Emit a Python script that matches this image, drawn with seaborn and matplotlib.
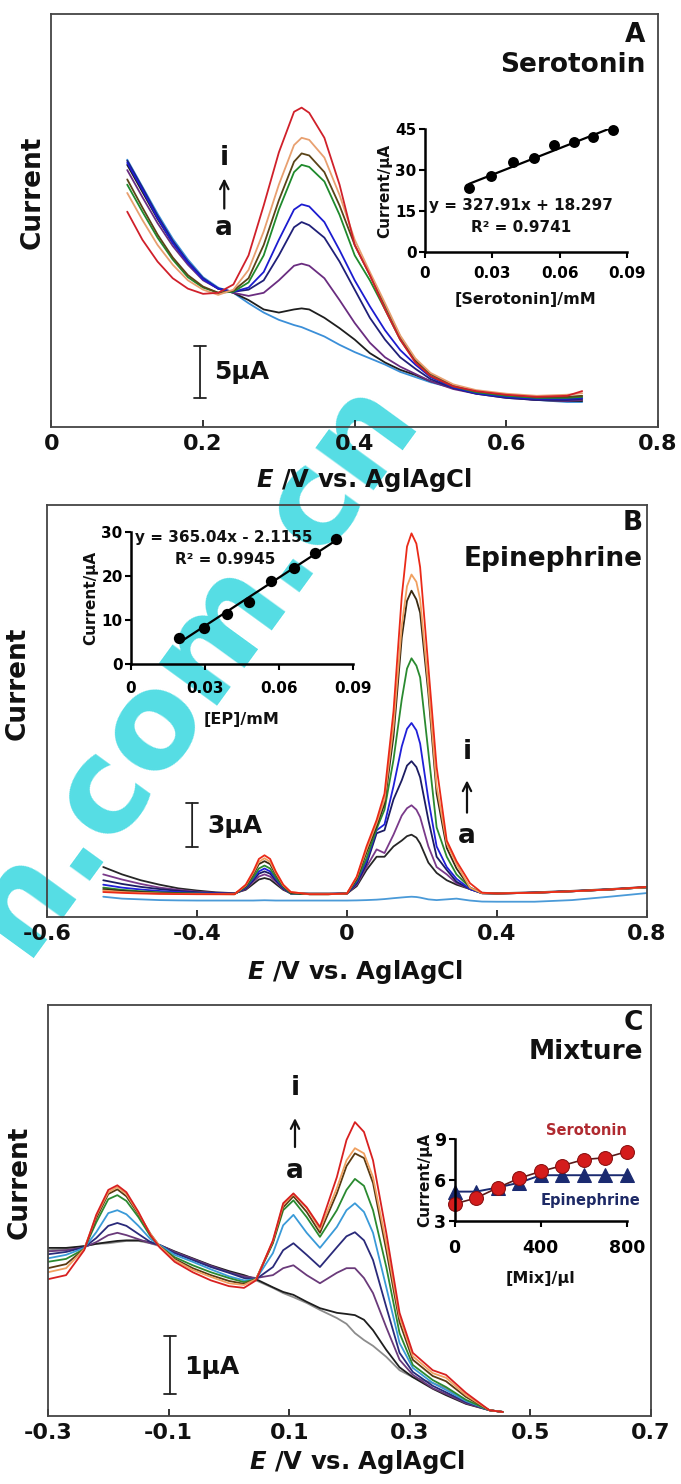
import numpy as np
import pandas as pd
import matplotlib
matplotlib.use("Agg")
import matplotlib.pyplot as plt
import seaborn as sns

sns.set_theme(style="white")
plt.rcParams['font.family'] = ['DejaVu Sans']
plt.rcParams['font.weight'] = 'bold'
plt.rcParams['axes.labelweight'] = 'bold'
plt.rcParams['text.color'] = '#111111'
plt.rcParams['axes.labelcolor'] = '#111111'
plt.rcParams['mathtext.fontset'] = 'custom'
plt.rcParams['mathtext.it'] = 'DejaVu Sans:italic:bold'
plt.rcParams['mathtext.rm'] = 'DejaVu Sans:bold'

# ---------------- data ----------------
curve_ids = ["a", "b", "c", "d", "e", "f", "g", "h", "i"]

# Panel A : serotonin voltammograms (current in uA)
E_A = [0.10, 0.12, 0.14, 0.16, 0.18, 0.20, 0.22, 0.24, 0.26, 0.28, 0.30, 0.32, 0.33, 0.34,
       0.36, 0.38, 0.40, 0.42, 0.44, 0.46, 0.48, 0.50, 0.53, 0.56, 0.60, 0.64, 0.68, 0.70]
A_a = [25.7, 23.1, 20.5, 18.1, 16.1, 14.4, 13.4, 12.9, 11.9, 11.0, 10.3, 9.8, 9.6, 9.3, 8.7, 7.9, 7.2, 6.6, 6.0, 5.3, 4.8, 4.3, 3.75, 3.25, 2.9, 2.6, 2.4, 2.4]
A_b = [25.2, 22.6, 20.0, 17.7, 15.8, 14.2, 13.3, 12.9, 12.2, 11.3, 11.0, 11.3, 11.4, 11.3, 10.5, 9.5, 8.4, 7.1, 6.2, 5.5, 5.0, 4.4, 3.75, 3.25, 2.9, 2.6, 2.5, 2.5]
A_c = [24.7, 22.1, 19.6, 17.4, 15.6, 14.1, 13.3, 12.9, 12.6, 12.9, 14.1, 15.5, 15.7, 15.5, 14.3, 12.2, 10.0, 8.1, 6.7, 5.8, 5.1, 4.4, 3.65, 3.2, 2.8, 2.6, 2.5, 2.6]
A_d = [25.6, 23.0, 20.3, 17.9, 15.9, 14.3, 13.3, 13.0, 13.2, 14.1, 16.5, 19.2, 19.7, 19.4, 18.2, 15.9, 13.2, 10.5, 8.4, 6.7, 5.6, 4.6, 3.75, 3.2, 2.8, 2.6, 2.6, 2.7]
A_e = [25.4, 22.8, 20.1, 17.7, 15.8, 14.2, 13.3, 13.0, 13.4, 14.9, 18.0, 20.9, 21.4, 21.2, 19.7, 17.0, 14.1, 11.6, 9.3, 7.4, 6.0, 4.8, 3.8, 3.25, 2.9, 2.7, 2.7, 2.8]
A_f = [23.3, 20.7, 18.2, 16.1, 14.4, 13.4, 12.9, 13.0, 13.9, 16.5, 20.9, 24.5, 25.2, 25.0, 23.6, 20.4, 16.5, 14.1, 11.3, 8.4, 6.3, 4.9, 3.9, 3.35, 3.0, 2.8, 2.8, 2.9]
A_g = [23.8, 21.1, 18.5, 16.3, 14.6, 13.5, 12.9, 13.1, 14.3, 17.5, 21.8, 25.5, 26.3, 26.1, 24.5, 21.3, 17.5, 14.6, 11.7, 8.7, 6.4, 5.1, 4.0, 3.45, 3.1, 2.9, 2.9, 3.0]
A_h = [22.5, 19.9, 17.5, 15.6, 14.1, 13.2, 12.7, 13.2, 15.1, 18.8, 23.3, 27.1, 27.8, 27.6, 25.9, 22.3, 18.0, 14.9, 11.9, 8.8, 6.6, 5.2, 4.1, 3.55, 3.2, 3.0, 3.1, 3.25]
A_i = [20.7, 18.0, 15.9, 14.3, 13.3, 12.8, 12.9, 13.7, 16.5, 21.3, 26.4, 30.3, 30.7, 30.2, 27.8, 23.3, 17.5, 14.6, 11.3, 8.4, 6.2, 4.9, 3.9, 3.45, 3.1, 2.9, 3.0, 3.45]

# Panel A inset
sero_conc = [0.0197, 0.0296, 0.0393, 0.0484, 0.0575, 0.0664, 0.0749, 0.0838]
sero_peak = [23.3, 27.95, 32.9, 34.3, 39.0, 40.1, 41.9, 44.75]

# Panel B : epinephrine voltammograms
E_B = [-0.65, -0.6, -0.55, -0.5, -0.45, -0.4, -0.35, -0.3,
       -0.27, -0.25, -0.235, -0.22, -0.205, -0.19, -0.17, -0.15,
       -0.1, -0.05,
       0.0, 0.026, 0.052, 0.079, 0.10, 0.124, 0.146, 0.16, 0.172, 0.185, 0.195, 0.217, 0.239, 0.266, 0.292, 0.328, 0.36,
       0.4, 0.5, 0.6, 0.7, 0.8]
B_a = [1.38, 1.25, 1.2, 1.15, 1.13, 1.12, 1.12, 1.12,
       1.12, 1.12, 1.13, 1.14, 1.13, 1.12, 1.12, 1.12,
       1.12, 1.12,
       1.12, 1.13, 1.15, 1.18, 1.22, 1.28, 1.33, 1.36, 1.38, 1.36, 1.32, 1.2, 1.15, 1.2, 1.25, 1.12, 1.05,
       1.04, 1.04, 1.15, 1.38, 1.63]
B_b = [3.4, 2.9, 2.5, 2.2, 1.95, 1.8, 1.68, 1.62,
       1.85, 2.25, 2.55, 2.65, 2.55, 2.25, 1.85, 1.62,
       1.6, 1.6,
       1.6, 2.1, 3.2, 4.1, 4.1, 4.8, 5.2, 5.5, 5.6, 5.4, 5.0, 3.7, 3.0, 2.5, 2.2, 1.9, 1.65,
       1.62, 1.68, 1.78, 1.9, 2.05]
B_c = [2.9, 2.55, 2.25, 2.0, 1.85, 1.72, 1.64, 1.6,
       1.9, 2.4, 2.75, 2.9, 2.75, 2.4, 1.9, 1.6,
       1.58, 1.58,
       1.6, 2.2, 3.4, 4.6, 4.35, 5.6, 6.9, 7.4, 7.6, 7.3, 6.8, 4.8, 3.4, 2.9, 2.3, 1.9, 1.62,
       1.6, 1.66, 1.76, 1.88, 2.03]
B_d = [2.5, 2.25, 2.05, 1.9, 1.78, 1.68, 1.62, 1.58,
       1.95, 2.5, 2.95, 3.1, 2.95, 2.5, 1.95, 1.6,
       1.57, 1.57,
       1.6, 2.3, 3.6, 5.7, 5.9, 8.0, 9.3, 10.3, 10.6, 10.2, 9.5, 6.6, 4.1, 3.2, 2.4, 1.9, 1.62,
       1.6, 1.65, 1.75, 1.87, 2.02]
B_e = [2.2, 2.0, 1.87, 1.77, 1.7, 1.64, 1.6, 1.57,
       2.0, 2.6, 3.1, 3.3, 3.1, 2.6, 2.0, 1.6,
       1.56, 1.56,
       1.6, 2.4, 3.8, 5.9, 6.3, 8.9, 11.6, 12.8, 13.2, 12.7, 11.8, 8.0, 4.8, 3.4, 2.6, 1.9, 1.62,
       1.6, 1.65, 1.75, 1.87, 2.02]
B_f = [2.0, 1.85, 1.75, 1.68, 1.63, 1.6, 1.57, 1.56,
       2.05, 2.7, 3.3, 3.5, 3.3, 2.7, 2.05, 1.6,
       1.55, 1.55,
       1.6, 2.5, 4.0, 6.0, 7.3, 10.7, 14.8, 16.9, 17.6, 17.1, 16.3, 11.2, 6.1, 4.1, 2.9, 2.0, 1.62,
       1.6, 1.65, 1.75, 1.87, 2.02]
B_g = [1.9, 1.78, 1.7, 1.64, 1.6, 1.58, 1.56, 1.55,
       2.1, 2.9, 3.6, 3.8, 3.6, 2.9, 2.1, 1.65,
       1.55, 1.55,
       1.6, 2.6, 4.4, 6.2, 7.7, 12.3, 19.0, 21.5, 22.2, 21.6, 20.7, 15.2, 8.4, 4.7, 3.3, 2.0, 1.62,
       1.6, 1.65, 1.75, 1.87, 2.02]
B_h = [1.8, 1.7, 1.64, 1.6, 1.57, 1.56, 1.55, 1.55,
       2.15, 3.0, 3.75, 4.0, 3.75, 3.0, 2.15, 1.7,
       1.55, 1.55,
       1.6, 2.7, 4.6, 6.4, 8.0, 13.0, 19.8, 22.5, 23.3, 22.8, 21.6, 15.7, 8.9, 5.0, 3.6, 2.0, 1.62,
       1.6, 1.65, 1.75, 1.87, 2.02]
B_i = [1.7, 1.64, 1.6, 1.57, 1.56, 1.55, 1.55, 1.55,
       2.2, 3.1, 3.95, 4.2, 3.95, 3.1, 2.2, 1.7,
       1.55, 1.55,
       1.6, 2.75, 4.8, 6.6, 8.4, 14.0, 21.8, 25.2, 26.1, 25.4, 23.8, 17.0, 10.2, 5.2, 3.8, 2.3, 1.65,
       1.6, 1.65, 1.75, 1.87, 2.05]

# Panel B inset
ep_conc = [0.0194, 0.0295, 0.0388, 0.048, 0.0568, 0.0662, 0.0745, 0.083]
ep_peak = [5.9, 8.1, 11.3, 14.2, 18.9, 21.9, 25.2, 28.3]

# Panel C : mixture voltammograms
E_C = [-0.30, -0.27, -0.24, -0.22, -0.20, -0.185, -0.17, -0.15, -0.13, -0.115, -0.09, -0.06, -0.03,
       0.0, 0.025, 0.045, 0.073, 0.09, 0.107, 0.129, 0.151, 0.179, 0.195, 0.209, 0.224, 0.239,
       0.261, 0.283, 0.305, 0.338, 0.36, 0.393, 0.432, 0.454]
C_a = [2.86, 2.88, 2.93, 2.97, 2.98, 3.00, 3.02, 3.02, 2.98, 2.93, 2.83, 2.71, 2.59, 2.48, 2.41, 2.34, 2.21, 2.12, 2.05, 1.95, 1.83, 1.69, 1.59, 1.43, 1.31, 1.21, 1.02, 0.79, 0.67, 0.57, 0.48, 0.24, 0.10, 0.07]
C_b = [2.90, 2.90, 2.93, 2.97, 3.00, 3.02, 3.03, 3.03, 3.00, 2.95, 2.84, 2.72, 2.60, 2.50, 2.43, 2.36, 2.22, 2.14, 2.09, 1.97, 1.86, 1.78, 1.76, 1.74, 1.66, 1.48, 1.14, 0.84, 0.67, 0.47, 0.36, 0.21, 0.10, 0.07]
C_c = [2.84, 2.86, 2.91, 3.00, 3.12, 3.16, 3.12, 3.05, 2.98, 2.95, 2.83, 2.71, 2.59, 2.48, 2.41, 2.38, 2.43, 2.55, 2.60, 2.43, 2.29, 2.47, 2.55, 2.55, 2.38, 2.12, 1.53, 0.97, 0.71, 0.48, 0.38, 0.22, 0.10, 0.07]
C_d = [2.79, 2.83, 2.91, 3.07, 3.28, 3.33, 3.28, 3.14, 3.00, 2.95, 2.81, 2.69, 2.57, 2.47, 2.38, 2.36, 2.57, 2.86, 2.98, 2.78, 2.57, 2.91, 3.10, 3.17, 3.03, 2.69, 1.88, 1.09, 0.76, 0.52, 0.41, 0.24, 0.10, 0.07]
C_e = [2.72, 2.78, 2.90, 3.17, 3.50, 3.55, 3.48, 3.28, 3.05, 2.95, 2.78, 2.66, 2.53, 2.41, 2.34, 2.36, 2.81, 3.29, 3.47, 3.16, 2.90, 3.26, 3.55, 3.67, 3.52, 3.16, 2.22, 1.26, 0.83, 0.57, 0.45, 0.26, 0.10, 0.07]
C_f = [2.66, 2.71, 2.88, 3.34, 3.74, 3.81, 3.71, 3.43, 3.10, 2.93, 2.74, 2.60, 2.48, 2.38, 2.31, 2.36, 2.98, 3.55, 3.72, 3.43, 3.09, 3.55, 3.90, 4.09, 3.97, 3.55, 2.57, 1.43, 0.88, 0.62, 0.50, 0.28, 0.10, 0.07]
C_g = [2.55, 2.62, 2.88, 3.41, 3.83, 3.91, 3.79, 3.48, 3.14, 2.93, 2.71, 2.55, 2.43, 2.33, 2.28, 2.36, 3.00, 3.60, 3.79, 3.52, 3.16, 3.84, 4.31, 4.53, 4.45, 4.02, 2.86, 1.62, 0.97, 0.69, 0.60, 0.33, 0.10, 0.07]
C_h = [2.48, 2.55, 2.88, 3.45, 3.86, 3.95, 3.83, 3.50, 3.14, 2.93, 2.69, 2.52, 2.40, 2.29, 2.26, 2.36, 3.02, 3.64, 3.83, 3.59, 3.22, 3.93, 4.41, 4.62, 4.53, 4.12, 2.98, 1.71, 1.03, 0.74, 0.66, 0.36, 0.10, 0.07]
C_i = [2.36, 2.43, 2.86, 3.47, 3.90, 3.98, 3.86, 3.52, 3.12, 2.91, 2.66, 2.48, 2.34, 2.24, 2.21, 2.34, 3.03, 3.67, 3.84, 3.60, 3.26, 4.12, 4.76, 5.07, 4.90, 4.41, 3.16, 1.78, 1.09, 0.79, 0.71, 0.40, 0.10, 0.07]

# Panel C inset
mix_vol = [0, 100, 200, 300, 400, 500, 600, 700, 800]
mix_sero = [4.25, 4.68, 5.43, 6.13, 6.63, 7.05, 7.5, 7.63, 8.08]
mix_epi = [5.15, 5.15, 5.45, 5.8, 6.35, 6.35, 6.35, 6.35, 6.35]

pal_A = {"a": "#3b8fd8", "b": "#1e1e1e", "c": "#6a2d80", "d": "#202078", "e": "#1c1cd0",
         "f": "#1f8a2c", "g": "#5a4418", "h": "#e8a070", "i": "#d0202a"}
pal_B = {"a": "#4a9ad8", "b": "#262626", "c": "#7a3a8a", "d": "#1c1c62", "e": "#2020d8",
         "f": "#2a8a30", "g": "#3a2a12", "h": "#f0a060", "i": "#ea2a18"}
pal_C = {"a": "#8c8c8c", "b": "#1e1e1e", "c": "#6a3a7a", "d": "#2a2a7a", "e": "#3a9ad8",
         "f": "#2a8a30", "g": "#5a3a12", "h": "#f0a060", "i": "#d82020"}

# ---------------- figure ----------------
W, H = 681, 1484
fig = plt.figure(figsize=(W / 100, H / 100), dpi=100)
fig.patch.set_facecolor("white")


def rect(l, t, r, b):
    return [l / W, 1 - b / H, (r - l) / W, (b - t) / H]


def long_df(E, curves):
    frames = [pd.DataFrame({"E": E, "I": v, "curve": c}) for c, v in zip(curve_ids, curves)]
    return pd.concat(frames, ignore_index=True)


def setup_main(ax, xlim, ylim, ticks, labels, ylab_xy, xlab_xy):
    ax.set_facecolor("none")
    ax.set_xlim(xlim)
    ax.set_ylim(ylim)
    ax.set_xticks(ticks)
    ax.set_xticklabels(labels)
    ax.set_yticks([])
    ax.tick_params(axis="x", direction="in", length=5, width=1.2, pad=5,
                   labelsize=16, colors="#111111", bottom=True)
    for s in ax.spines.values():
        s.set_visible(True)
        s.set_color("#444444")
        s.set_linewidth(1.3)
    ax.set_ylabel("Current", fontsize=19, fontweight="bold")
    ax.yaxis.set_label_coords(*ylab_xy)
    ax.set_xlabel(r"$E$ /V vs. AglAgCl", fontsize=17.5, fontweight="bold")
    ax.xaxis.set_label_coords(*xlab_xy)


def setup_inset(ax, xlim, ylim, xt, xtl, yt, xlabel, xlabpad, xpad, tsize=11):
    ax.set_facecolor("none")
    ax.set_xlim(xlim)
    ax.set_ylim(ylim)
    ax.set_xticks(xt)
    ax.set_xticklabels(xtl)
    ax.set_yticks(yt)
    for s in ["top", "right"]:
        ax.spines[s].set_visible(False)
    for s in ["left", "bottom"]:
        ax.spines[s].set_visible(True)
        ax.spines[s].set_color("black")
        ax.spines[s].set_linewidth(1.8)
    ax.tick_params(direction="out", length=4, width=1.5, labelsize=tsize, pad=2,
                   left=True, bottom=True, colors="black")
    ax.tick_params(axis="x", pad=xpad)
    ax.set_ylabel("Current/μA", fontsize=11, fontweight="bold", labelpad=2)
    ax.set_xlabel(xlabel, fontsize=11.5, fontweight="bold", labelpad=xlabpad)


def scale_bar(ax, x, y0, y1, tx, ty, txt):
    ax.annotate("", xy=(x, y1), xytext=(x, y0),
                arrowprops=dict(arrowstyle="|-|, widthA=0.35, widthB=0.35", lw=1.3, color="#222222",
                                shrinkA=0, shrinkB=0))
    ax.text(tx, ty, txt, fontsize=18, fontweight="bold", ha="left", va="center")


def series_marker(ax, x, y_i, y_top, y_bot, y_a):
    ax.text(x, y_i, "i", fontsize=19, fontweight="bold", ha="center", va="center")
    ax.text(x, y_a, "a", fontsize=19, fontweight="bold", ha="center", va="center")
    ax.annotate("", xy=(x, y_top), xytext=(x, y_bot),
                arrowprops=dict(arrowstyle="->, head_length=0.5, head_width=0.25", lw=1.6,
                                color="#111111", shrinkA=0, shrinkB=0))


# ---------- Panel A ----------
axA = fig.add_axes(rect(51.4, 14, 658, 427))
dfA = long_df(E_A, [A_a, A_b, A_c, A_d, A_e, A_f, A_g, A_h, A_i])
sns.lineplot(data=dfA, x="E", y="I", hue="curve", hue_order=curve_ids, palette=pal_A,
             estimator=None, sort=False, legend=False, lw=1.3, ax=axA)
setup_main(axA, (0, 0.8), (0, 39.7), [0, 0.2, 0.4, 0.6, 0.8], ["0", "0.2", "0.4", "0.6", "0.8"],
           (-0.009, 0.569), (0.515, -0.094))
axA.text(0.979, 0.949, "A", transform=axA.transAxes, fontsize=19, ha="right", va="center")
axA.text(0.979, 0.877, "Serotonin", transform=axA.transAxes, fontsize=19, ha="right", va="center")
scale_bar(axA, 0.196, 2.79, 7.79, 0.214, 5.3, "5μA")
series_marker(axA, 0.228, 25.9, 23.9, 21.0, 19.1)

axAi = fig.add_axes(rect(425, 129, 627, 252))
sns.regplot(x=sero_conc, y=sero_peak, ci=None, truncate=True, ax=axAi,
            scatter_kws=dict(s=62, color="black", zorder=3, clip_on=False, alpha=1, linewidths=0),
            line_kws=dict(color="black", lw=1.6))
setup_inset(axAi, (0, 0.09), (0, 45), [0, 0.03, 0.06, 0.09], ["0", "0.03", "0.06", "0.09"],
            [0, 15, 30, 45], "[Serotonin]/mM", 8, 6)
axAi.text(0.475, 0.38, "y = 327.91x + 18.297", transform=axAi.transAxes, fontsize=11,
          ha="center", va="center")
axAi.text(0.475, 0.203, "R² = 0.9741", transform=axAi.transAxes, fontsize=11,
          ha="center", va="center")

# ---------- Panel B ----------
axB = fig.add_axes(rect(47, 505, 647, 917))
dfB = long_df(E_B, [B_a, B_b, B_c, B_d, B_e, B_f, B_g, B_h, B_i])
sns.lineplot(data=dfB, x="E", y="I", hue="curve", hue_order=curve_ids, palette=pal_B,
             estimator=None, sort=False, legend=False, lw=1.3, ax=axB)
setup_main(axB, (-0.8, 0.8), (0, 28.03), [-0.8, -0.4, 0, 0.4, 0.8],
           ["-0.6", "-0.4", "0", "0.4", "0.8"], (-0.028, 0.568), (0.513, -0.1))
axB.text(0.993, 0.956, "B", transform=axB.transAxes, fontsize=19, ha="right", va="center")
axB.text(0.993, 0.869, "Epinephrine", transform=axB.transAxes, fontsize=19, ha="right", va="center")
scale_bar(axB, -0.413, 4.76, 7.76, -0.372, 6.2, "3μA")
series_marker(axB, 0.32, 11.2, 9.3, 7.1, 5.5)

axBi = fig.add_axes(rect(131, 532, 353, 664))
sns.regplot(x=ep_conc, y=ep_peak, ci=None, truncate=True, ax=axBi,
            scatter_kws=dict(s=66, color="black", zorder=3, clip_on=False, alpha=1, linewidths=0),
            line_kws=dict(color="black", lw=1.6))
setup_inset(axBi, (0, 0.09), (0, 30), [0, 0.03, 0.06, 0.09], ["0", "0.03", "0.06", "0.09"],
            [0, 10, 20, 30], "[EP]/mM", 12, 8)
axBi.text(0.42, 0.955, "y = 365.04x - 2.1155", transform=axBi.transAxes, fontsize=11,
          ha="center", va="center")
axBi.text(0.423, 0.788, "R² = 0.9945", transform=axBi.transAxes, fontsize=11,
          ha="center", va="center")

# ---------- Panel C ----------
axC = fig.add_axes(rect(48, 1005, 651, 1416))
dfC = long_df(E_C, [C_a, C_b, C_c, C_d, C_e, C_f, C_g, C_h, C_i])
sns.lineplot(data=dfC, x="E", y="I", hue="curve", hue_order=curve_ids, palette=pal_C,
             estimator=None, sort=False, legend=False, lw=1.3, ax=axC)
setup_main(axC, (-0.3, 0.7), (0, 7.09), [-0.3, -0.1, 0.1, 0.3, 0.5, 0.7],
           ["-0.3", "-0.1", "0.1", "0.3", "0.5", "0.7"], (-0.025, 0.569), (0.512, -0.078))
axC.text(0.987, 0.956, "C", transform=axC.transAxes, fontsize=19, ha="right", va="center")
axC.text(0.987, 0.886, "Mixture", transform=axC.transAxes, fontsize=19, ha="right", va="center")
scale_bar(axC, -0.0977, 0.38, 1.38, -0.075, 0.85, "1μA")
series_marker(axC, 0.1096, 5.66, 5.14, 4.64, 4.22)

axCi = fig.add_axes(rect(454.5, 1139, 627, 1221))
mix_df = pd.DataFrame({"vol": mix_vol * 2, "cur": mix_epi + mix_sero,
                       "analyte": ["Epinephrine"] * len(mix_vol) + ["Serotonin"] * len(mix_vol)})
sns.lineplot(data=mix_df[mix_df.analyte == "Epinephrine"], x="vol", y="cur", ax=axCi,
             color="#1a2a70", marker="^", markersize=9.5, markeredgecolor="#1a2a70",
             lw=1.4, legend=False, clip_on=False)
sns.lineplot(data=mix_df[mix_df.analyte == "Serotonin"], x="vol", y="cur", ax=axCi,
             color="#5a1a1a", marker="o", markersize=10, markerfacecolor="#d41c1c",
             markeredgecolor="#8a1010", lw=1.2, legend=False, clip_on=False)
setup_inset(axCi, (0, 800), (3, 9), [0, 400, 800], ["0", "400", "800"], [3, 6, 9], "[Mix]/μl",
            10, 9, tsize=12.5)
axCi.set_ylabel("Current/μA", fontsize=11, fontweight="bold", labelpad=1)
axCi.text(0.762, 1.10, "Serotonin", transform=axCi.transAxes, fontsize=10.5, color="#b02a30",
          ha="center", va="center")
axCi.text(0.786, 0.244, "Epinephrine", transform=axCi.transAxes, fontsize=10.5, color="#1e2a66",
          ha="center", va="center")

# watermark (behind the plot content)
fig.text(192 / W, 1 - 664 / H, "n.com.cn", rotation=54, rotation_mode="anchor",
         fontsize=95, fontweight="bold", color="#55dde4", ha="center", va="center", zorder=-1)

fig.savefig("out.png", dpi=100, facecolor="white")
